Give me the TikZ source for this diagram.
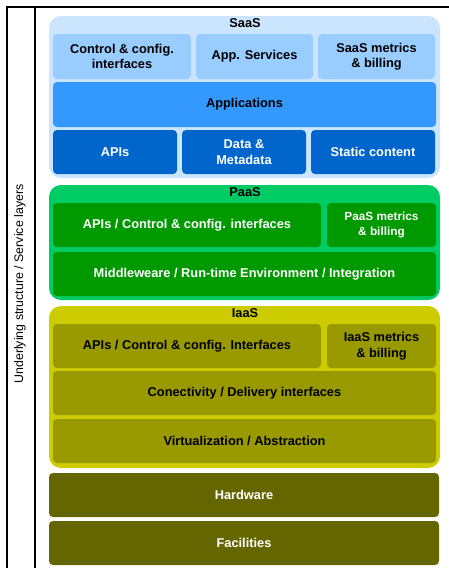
\documentclass[tikz,border=0pt]{standalone}
\usepackage{fontspec}
\setmainfont{Liberation Sans}
\definecolor{saasbg}{HTML}{CCE5FF}
\definecolor{saaslight}{HTML}{99CCFF}
\definecolor{saasmid}{HTML}{3399FF}
\definecolor{saasdark}{HTML}{0066CC}
\definecolor{paasbg}{HTML}{00CC66}
\definecolor{paasbox}{HTML}{009900}
\definecolor{iaasbg}{HTML}{CCCC00}
\definecolor{iaasbox}{HTML}{999900}
\definecolor{hwbox}{HTML}{666600}
\newcommand{\lblfont}{\fontsize{12.8}{15.5}\selectfont\bfseries}
\newcommand{\smallfont}{\fontsize{11.8}{14.5}\selectfont\bfseries}
\begin{document}
\begin{tikzpicture}[x=1pt,y=-1pt,
  layer/.style={rounded corners=12pt, draw=none},
  box/.style={rounded corners=4pt, inner sep=0pt, outer sep=0pt, align=center,
              font=\lblfont, anchor=north west, draw=none},
  title/.style={font=\lblfont, inner sep=0pt},
  frame/.style={draw=black, line width=1.5pt}]
\useasboundingbox (0,0) rectangle (449,568);

% table frame
\draw[frame] (7,568) -- (7,7) -- (449,7);
\draw[frame] (35,7) -- (35,568);
\node[rotate=90, font=\fontsize{12.4}{15}\selectfont, inner sep=0pt] (side) at (20,284)
  {Underlying structure / Service layers};

% SaaS layer
\fill[saasbg, layer] (49,16) rectangle (440,178);
\node[title] (saas) at (245,23) {SaaS};
\node[box, fill=saaslight, minimum width=138pt, minimum height=45pt] (sctl) at (53,34) {Control \& config.\\interfaces};
\node[box, fill=saaslight, minimum width=117pt, minimum height=45pt] (sapp) at (196,34) {App. Services};
\node[box, fill=saaslight, minimum width=117pt, minimum height=45pt] (smet) at (318,34) {SaaS metrics\\\& billing};
\node[box, fill=saasmid, minimum width=383pt, minimum height=45pt] (sapps) at (53,82) {Applications};
\node[box, fill=saasdark, text=white, minimum width=124pt, minimum height=44pt] (sapi) at (53,130) {APIs};
\node[box, fill=saasdark, text=white, minimum width=124pt, minimum height=44pt] (sdata) at (182,130) {Data \&\\Metadata};
\node[box, fill=saasdark, text=white, minimum width=124pt, minimum height=44pt] (sstat) at (311,130) {Static content};

% PaaS layer
\fill[paasbg, layer] (49,185) rectangle (440,300);
\node[title] (paas) at (245,192) {PaaS};
\node[box, fill=paasbox, text=white, minimum width=268pt, minimum height=44pt] (pctl) at (53,203) {APIs / Control \& config. interfaces};
\node[box, fill=paasbox, text=white, minimum width=109pt, minimum height=44pt, font=\smallfont] (pmet) at (327,203) {PaaS metrics\\\& billing};
\node[box, fill=paasbox, text=white, minimum width=383pt, minimum height=44pt] (pmid) at (53,252) {Middleweare / Run-time Environment / Integration};

% IaaS layer
\fill[iaasbg, layer] (49,306) rectangle (440,468);
\node[title] (iaas) at (245,313) {IaaS};
\node[box, fill=iaasbox, minimum width=268pt, minimum height=44pt] (ictl) at (53,324) {APIs / Control \& config. Interfaces};
\node[box, fill=iaasbox, minimum width=109pt, minimum height=44pt] (imet) at (327,324) {IaaS metrics\\\& billing};
\node[box, fill=iaasbox, minimum width=383pt, minimum height=44pt] (icon) at (53,371) {Conectivity / Delivery interfaces};
\node[box, fill=iaasbox, minimum width=383pt, minimum height=44pt] (ivirt) at (53,419) {Virtualization / Abstraction};

% physical base
\node[box, fill=hwbox, text=white, minimum width=390pt, minimum height=44pt] (hw) at (49,473) {Hardware};
\node[box, fill=hwbox, text=white, minimum width=390pt, minimum height=44pt] (fac) at (49,521) {Facilities};
\end{tikzpicture}
\end{document}
